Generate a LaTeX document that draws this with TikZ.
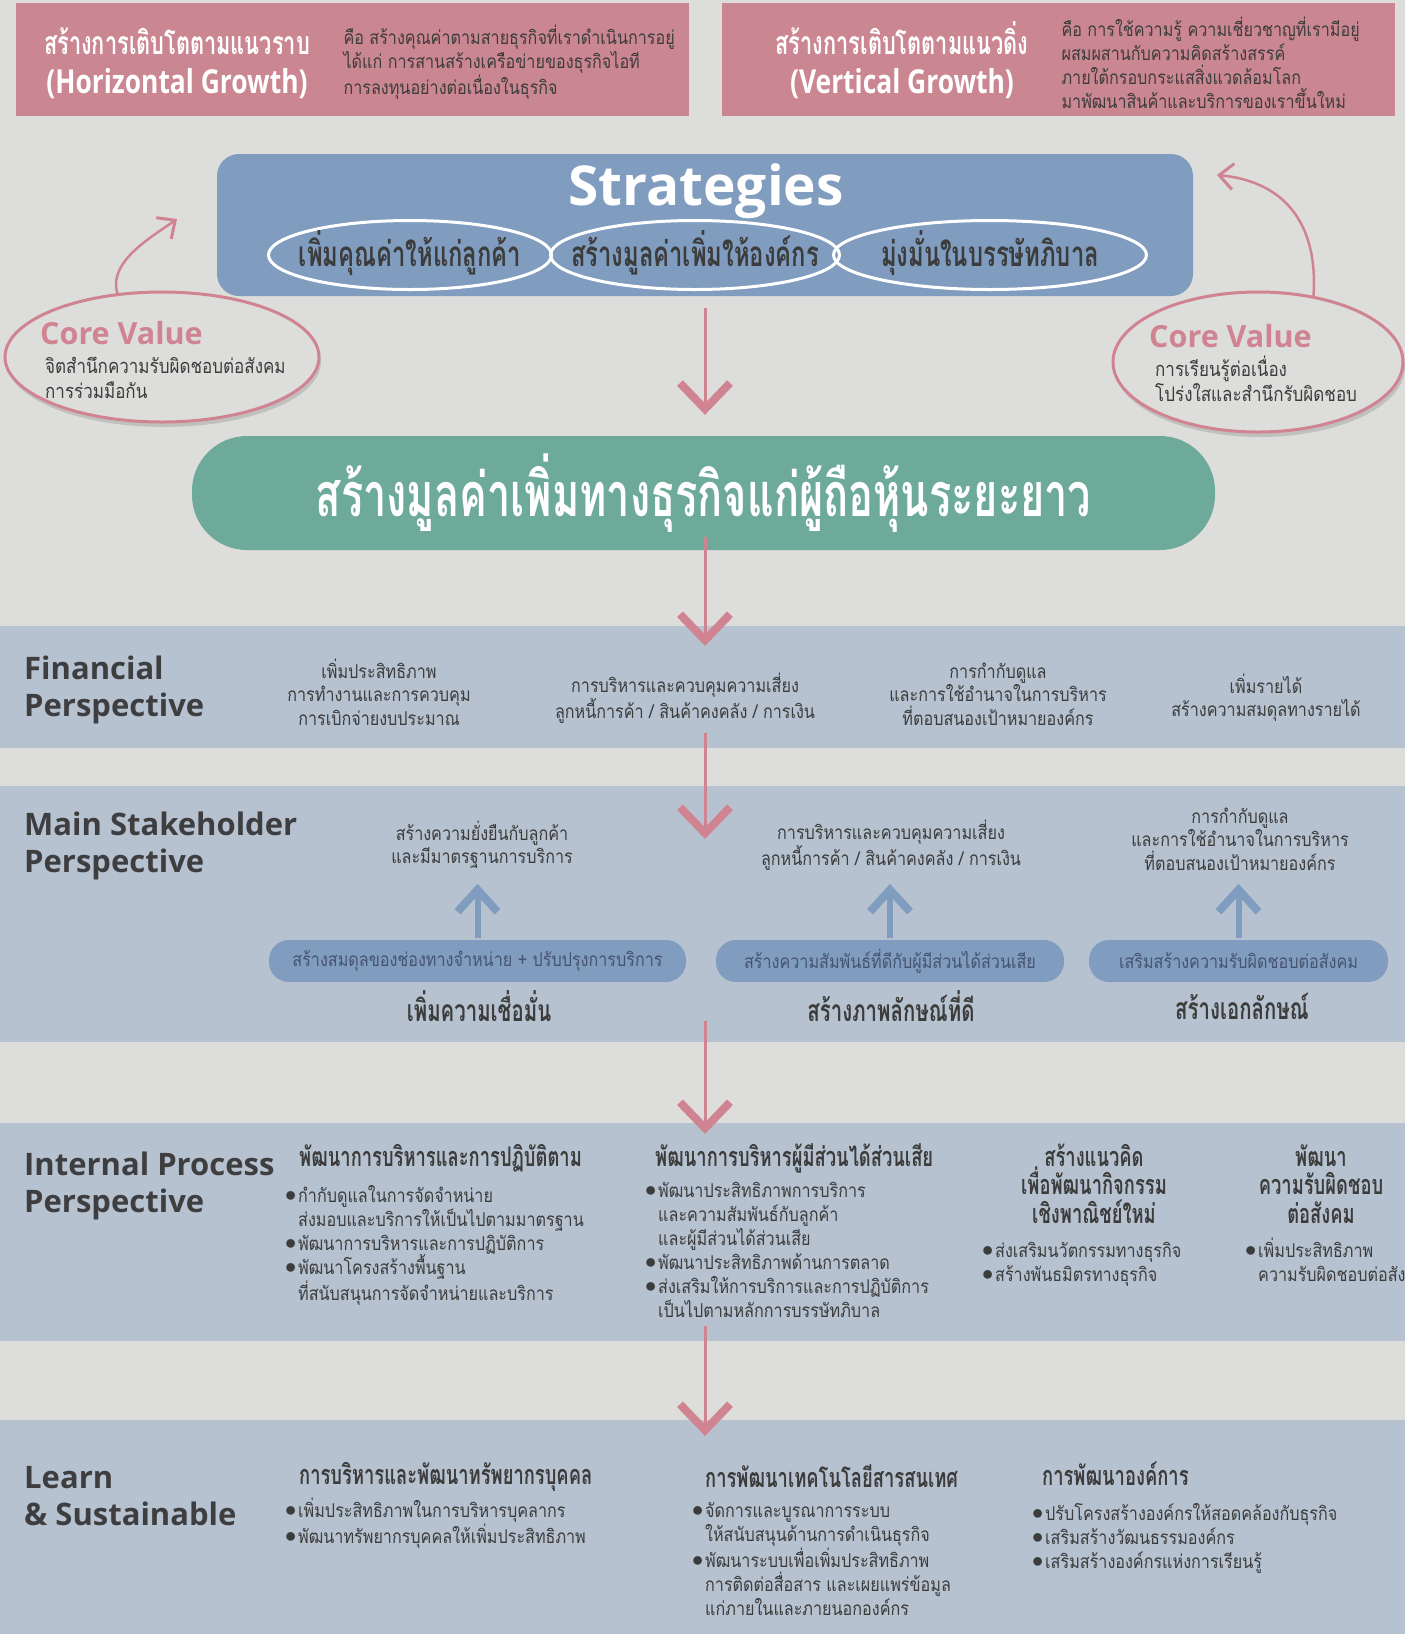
\documentclass[tikz,border=0pt]{standalone}
\usepackage{fontspec}
\usetikzlibrary{arrows.meta,shadows,shapes.geometric}
\newfontfamily\thaitext[Script=Thai,FakeStretch=0.85]{Loma}
\newfontfamily\thaihead[Script=Thai,FakeStretch=0.68]{Loma}
\newfontfamily\latinhead{Open Sans}
\newfontfamily\latincond[FakeStretch=0.8]{Open Sans}

\definecolor{bggrey}{RGB}{221,221,219}
\definecolor{rosebox}{RGB}{203,135,145}
\definecolor{roseline}{RGB}{208,132,146}
\definecolor{stratblue}{RGB}{128,157,192}
\definecolor{bandblue}{RGB}{182,194,208}
\definecolor{goalgreen}{RGB}{110,170,154}
\definecolor{inkgrey}{RGB}{60,60,60}
\definecolor{headgrey}{RGB}{62,62,64}
\definecolor{pillink}{RGB}{70,84,112}

\newcommand{\bl}{\makebox[13pt][l]{\raisebox{1pt}{\scalebox{1.3}{$\bullet$}}}}
\newcommand{\ind}{\hspace*{13pt}}
\newcommand{\latinline}[1]{{\latincond\bfseries\fontsize{33}{39}\selectfont #1}}

\tikzset{
	growbox/.style={fill=rosebox,anchor=north west,minimum width=673pt,minimum height=113pt,inner sep=0pt},
	growtitle/.style={anchor=base,align=center,text=white,font=\thaihead\bfseries\fontsize{32}{39}\selectfont},
	growdesc/.style={anchor=base west,align=left,text=inkgrey,font=\thaitext\fontsize{19}{24}\selectfont},
	band/.style={fill=bandblue,anchor=north west,minimum width=1405pt,inner sep=0pt},
	persp/.style={anchor=base west,align=left,text=headgrey,inner sep=0pt,font=\latinhead\bfseries\fontsize{31}{37}\selectfont},
	bodytext/.style={anchor=base,align=center,text=inkgrey,font=\thaitext\fontsize{19}{23.5}\selectfont},
	listtext/.style={anchor=base west,align=left,text=inkgrey,inner sep=0pt,font=\thaitext\fontsize{19}{24}\selectfont},
	colhead/.style={anchor=west,inner sep=0pt,text=inkgrey,font=\thaihead\bfseries\fontsize{27}{28.5}\selectfont},
	stratoval/.style={ellipse,draw=white,line width=3pt,minimum height=69pt,inner sep=0pt},
	strattext/.style={text=inkgrey,font=\thaihead\bfseries\fontsize{35}{38}\selectfont},
	coreoval/.style={ellipse,draw=roseline,line width=3pt,fill=bggrey,inner sep=0pt,
		drop shadow={opacity=0.3,shadow xshift=2pt,shadow yshift=-5pt}},
	coretitle/.style={anchor=west,inner sep=0pt,text=roseline,font=\latinhead\bfseries\fontsize{30.5}{34}\selectfont},
	coretext/.style={anchor=base west,align=left,inner sep=0pt,text=inkgrey,font=\thaitext\fontsize{20}{25}\selectfont},
	pill/.style={fill=stratblue,rounded corners=20pt,minimum height=42pt,inner sep=0pt,
		text=pillink,font=\thaitext\fontsize{19}{22}\selectfont},
	pilllabel/.style={text=inkgrey,font=\thaihead\bfseries\fontsize{30}{32}\selectfont},
	pinkarrow/.style={draw=roseline,line width=3pt,-{Straight Barb[length=26pt,width=50pt,line width=8pt]}},
	bluearrow/.style={draw=stratblue,line width=6pt,-{Straight Barb[length=22pt,width=40pt,line width=8pt]}},
	bentarrow/.style={draw=roseline,line width=2.5pt,-{Straight Barb[length=14pt,width=26pt,line width=3pt]}},
}

\begin{document}
\begin{tikzpicture}[x=1pt,y=-1pt]
	\useasboundingbox (0,0) rectangle (1405,1634);
	\clip (0,0) rectangle (1405,1634);
	\fill[bggrey] (0,0) rectangle (1405,1634);
	
	% growth boxes
	\node[growbox] (hgrow) at (16,3) {};
	\node[growbox] (vgrow) at (722,3) {};
	\node[growtitle] (hgrowT) at (177,93) {สร้างการเติบโตตามแนวราบ\\\latinline{(Horizontal Growth)}};
	\node[growdesc] (hgrowD) at (340,94) {คือ สร้างคุณค่าตามสายธุรกิจที่เราดำเนินการอยู่\\ได้แก่ การสานสร้างเครือข่ายของธุรกิจไอที\\การลงทุนอย่างต่อเนื่องในธุรกิจ};
	\node[growtitle] (vgrowT) at (902,93) {สร้างการเติบโตตามแนวดิ่ง\\\latinline{(Vertical Growth)}};
	\node[growdesc] (vgrowD) at (1058,108) {คือ การใช้ความรู้ ความเชี่ยวชาญที่เรามีอยู่\\ผสมผสานกับความคิดสร้างสรรค์\\ภายใต้กรอบกระแสสิ่งแวดล้อมโลก\\มาพัฒนาสินค้าและบริการของเราขึ้นใหม่};
	
	% strategies
	\node[fill=stratblue,rounded corners=22pt,minimum width=976pt,minimum height=142pt] (strat) at (705,225) {};
	\node[text=white,font=\latinhead\bfseries\fontsize{55}{60}\selectfont] (stratT) at (706,191) {Strategies};
	\node[stratoval,minimum width=283pt] (s1o) at (410,255) {};
	\node[stratoval,minimum width=289pt] (s2o) at (695,255) {};
	\node[stratoval,minimum width=313pt] (s3o) at (990,255) {};
	\node[strattext] (s1) at (410,253) {เพิ่มคุณค่าให้แก่ลูกค้า};
	\node[strattext] (s2) at (695,253) {สร้างมูลค่าเพิ่มให้องค์กร};
	\node[strattext] (s3) at (990,253) {มุ่งมั่นในบรรษัทภิบาล};
	
	% core values
	\node[coreoval,minimum width=314pt,minimum height=130pt] (cvL) at (162,357) {};
	\node[coretitle] (cvLT) at (40,333) {Core Value};
	\node[coretext] (cvLD) at (45,398) {จิตสำนึกความรับผิดชอบต่อสังคม\\การร่วมมือกัน};
	\node[coreoval,minimum width=290pt,minimum height=140pt] (cvR) at (1258,362) {};
	\node[coretitle] (cvRT) at (1149,336) {Core Value};
	\node[coretext] (cvRD) at (1155,401) {การเรียนรู้ต่อเนื่อง\\โปร่งใสและสำนึกรับผิดชอบ};
	\coordinate (cvLtip) at (177,219);
	\coordinate (cvRtip) at (1217,175);
	\draw[bentarrow] (cvL.125) .. controls (108,262) and (150,238) .. (cvLtip);
	\draw[bentarrow] (cvR.50) .. controls (1318,230) and (1290,182) .. (cvRtip);
	
	% goal
	\node[fill=goalgreen,rounded corners=55pt,minimum width=1023pt,minimum height=114pt,
	text=white,font=\thaihead\bfseries\fontsize{61}{64}\selectfont] (goal) at (703.5,493)
	{สร้างมูลค่าเพิ่มทางธุรกิจแก่ผู้ถือหุ้นระยะยาว};
	
%	================================================
	\node[band,minimum height=122pt] (fin) at (0,626) {};
	\node[band,minimum height=256pt] (msh) at (0,786) {};
	\node[band,minimum height=218pt] (ipp) at (0,1123) {};
	\node[band,minimum height=214pt] (lrn) at (0,1420) {};
	
	\node[persp] (finH) at (24,716) {Financial\\Perspective};
	\node[persp] (mshH) at (24,872) {Main Stakeholder\\Perspective};
	\node[persp] (ippH) at (24,1212) {Internal Process\\Perspective};
	\node[persp] (lrnH) at (24,1525) {Learn\\\& Sustainable};
	
	% financial
	\node[bodytext] (fin1) at (379,725) {เพิ่มประสิทธิภาพ\\การทำงานและการควบคุม\\การเบิกจ่ายงบประมาณ};
	\node[bodytext] (fin2) at (685,718.5) {การบริหารและควบคุมความเสี่ยง\\ลูกหนี้การค้า / สินค้าคงคลัง / การเงิน};
	\node[bodytext] (fin3) at (998,725) {การกำกับดูแล\\และการใช้อำนาจในการบริหาร\\ที่ตอบสนองเป้าหมายองค์กร};
	\node[bodytext] (fin4) at (1266,716.5) {เพิ่มรายได้\\สร้างความสมดุลทางรายได้};
	
	% main stakeholder
	\node[bodytext] (ms1) at (482,863.5) {สร้างความยั่งยืนกับลูกค้า\\และมีมาตรฐานการบริการ};
	\node[bodytext] (ms2) at (891,865.5) {การบริหารและควบคุมความเสี่ยง\\ลูกหนี้การค้า / สินค้าคงคลัง / การเงิน};
	\node[bodytext] (ms3) at (1240,870) {การกำกับดูแล\\และการใช้อำนาจในการบริหาร\\ที่ตอบสนองเป้าหมายองค์กร};
	\node[pill,minimum width=417pt] (p1) at (477.5,961) {สร้างสมดุลของช่องทางจำหน่าย + ปรับปรุงการบริการ};
	\node[pill,minimum width=348pt] (p2) at (890,961) {สร้างความสัมพันธ์ที่ดีกับผู้มีส่วนได้ส่วนเสีย};
	\node[pill,minimum width=299pt] (p3) at (1238.5,961) {เสริมสร้างความรับผิดชอบต่อสังคม};
	\node[pilllabel] (ml1) at (479,1006) {เพิ่มความเชื่อมั่น};
	\node[pilllabel] (ml2) at (891,1006) {สร้างภาพลักษณ์ที่ดี};
	\node[pilllabel] (ml3) at (1242,1006) {สร้างเอกลักษณ์};
	\foreach \p in {p1,p2,p3}
		\draw[bluearrow] ([yshift=2pt]\p.north) -- ([yshift=56pt]\p.north);
	
	% internal process
	\node[colhead] (ip1H) at (299,1158) {พัฒนาการบริหารและการปฏิบัติตาม};
	\node[listtext] (ip1L) at (285,1300) {\bl กำกับดูแลในการจัดจำหน่าย\\\ind ส่งมอบและบริการให้เป็นไปตามมาตรฐาน\\\bl พัฒนาการบริหารและการปฏิบัติการ\\\bl พัฒนาโครงสร้างพื้นฐาน\\\ind ที่สนับสนุนการจัดจำหน่ายและบริการ};
	\node[colhead] (ip2H) at (655,1158) {พัฒนาการบริหารผู้มีส่วนได้ส่วนเสีย};
	\node[listtext] (ip2L) at (645,1317) {\bl พัฒนาประสิทธิภาพการบริการ\\\ind และความสัมพันธ์กับลูกค้า\\\ind และผู้มีส่วนได้ส่วนเสีย\\\bl พัฒนาประสิทธิภาพด้านการตลาด\\\bl ส่งเสริมให้การบริการและการปฏิบัติการ\\\ind เป็นไปตามหลักการบรรษัทภิบาล};
	\node[colhead,anchor=base,align=center] (ip3H) at (1094,1223) {สร้างแนวคิด\\เพื่อพัฒนากิจกรรม\\เชิงพาณิชย์ใหม่};
	\node[listtext] (ip3L) at (982,1281) {\bl ส่งเสริมนวัตกรรมทางธุรกิจ\\\bl สร้างพันธมิตรทางธุรกิจ};
	\node[colhead,anchor=base,align=center] (ip4H) at (1321,1223) {พัฒนา\\ความรับผิดชอบ\\ต่อสังคม};
	\node[listtext] (ip4L) at (1245,1281) {\bl เพิ่มประสิทธิภาพ\\\ind ความรับผิดชอบต่อสังคม};
	
	% learn and sustainable
	\node[colhead] (ls1H) at (299,1477) {การบริหารและพัฒนาทรัพยากรบุคคล};
	\node[listtext] (ls1L) at (285,1543) {\bl เพิ่มประสิทธิภาพในการบริหารบุคลากร\\\bl พัฒนาทรัพยากรบุคคลให้เพิ่มประสิทธิภาพ};
	\node[colhead] (ls2H) at (705,1476) {การพัฒนาเทคโนโลยีสารสนเทศ};
	\node[listtext] (ls2L) at (692,1615) {\bl จัดการและบูรณาการระบบ\\\ind ให้สนับสนุนด้านการดำเนินธุรกิจ\\\bl พัฒนาระบบเพื่อเพิ่มประสิทธิภาพ\\\ind การติดต่อสื่อสาร และเผยแพร่ข้อมูล\\\ind แก่ภายในและภายนอกองค์กร};
	\node[colhead] (ls3H) at (1042,1474) {การพัฒนาองค์การ};
	\node[listtext] (ls3L) at (1032,1568) {\bl ปรับโครงสร้างองค์กรให้สอดคล้องกับธุรกิจ\\\bl เสริมสร้างวัฒนธรรมองค์กร\\\bl เสริมสร้างองค์กรแห่งการเรียนรู้};
	
%	================================================
	\draw[pinkarrow] ([yshift=-12pt]strat.south) -- ([yshift=21pt]strat.south |- goal.north);
	\draw[pinkarrow] ([yshift=13pt]strat.south |- goal.south) -- ([yshift=-20pt]strat.south |- fin.north);
	\draw[pinkarrow] ([yshift=15pt]strat.south |- fin.south) -- ([yshift=-53pt]strat.south |- msh.north);
	\draw[pinkarrow] ([yshift=21pt]strat.south |- msh.south) -- ([yshift=-11pt]strat.south |- ipp.north);
	\draw[pinkarrow] ([yshift=15pt]strat.south |- ipp.south) -- ([yshift=-16pt]strat.south |- lrn.north);
\end{tikzpicture}
\end{document}
